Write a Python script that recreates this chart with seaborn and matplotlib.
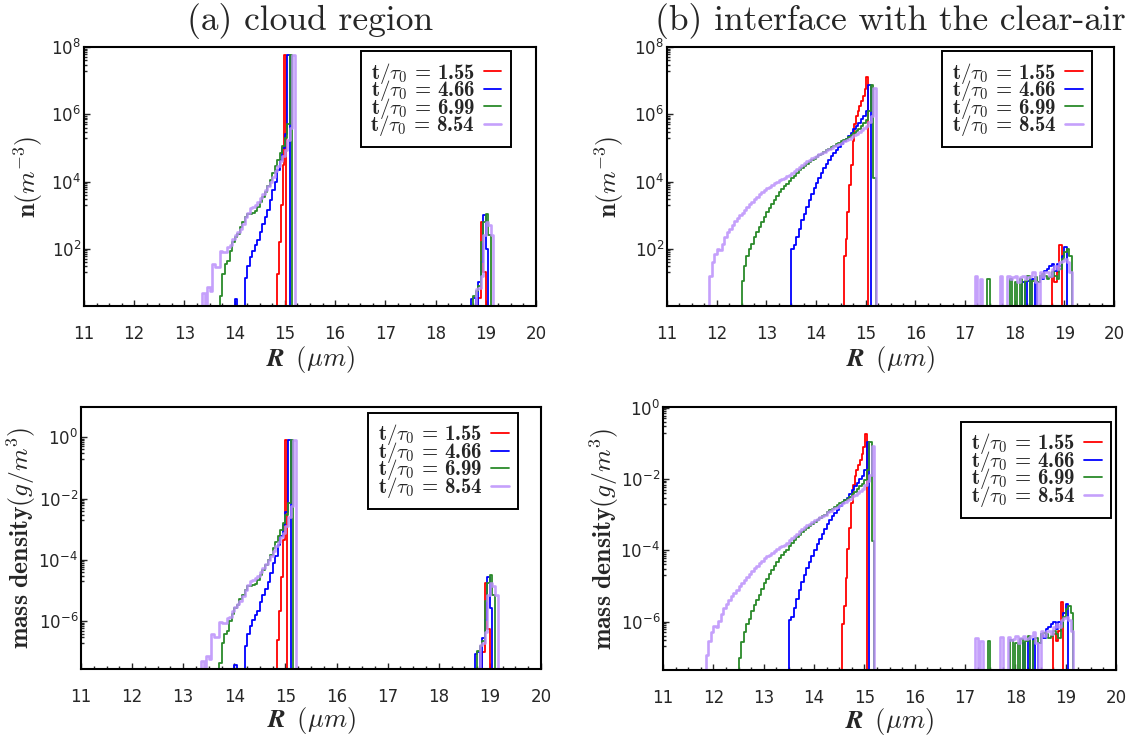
import numpy as np
import pandas as pd
import matplotlib
matplotlib.use("Agg")
import matplotlib.pyplot as plt
import seaborn as sns
from matplotlib.lines import Line2D
from matplotlib.ticker import FixedLocator, MultipleLocator, LogFormatterSciNotation, NullFormatter
from matplotlib.font_manager import FontProperties
from matplotlib.mathtext import MathTextParser

sns.set_style("ticks")
plt.rcParams.update({
    "font.family": ["DejaVu Sans"],
    "mathtext.fontset": "dejavusans",
    "axes.unicode_minus": False,
    "axes.linewidth": 1.5,
    "axes.edgecolor": "black",
    "axes.facecolor": "white",
    "figure.facecolor": "white",
})

# ---------------------------------------------------------------- data
times = ["1.55", "4.66", "6.99", "8.54"]
panel_titles = ["(a) cloud region", "(b) interface with the clear-air"]

# bins: start radius (um), bin width (um); values are log10 of the bin value
# (None = empty bin)

# (a) cloud region, number density n (m^-3)
a_n_main_start = [14.84, 14.00, 13.70, 13.35]
a_n_main_width = [0.038, 0.05, 0.05, 0.05]
a_n_r155 = [1.25, 2.2, 3.3, 4.5, 7.76]
a_n_r466 = [0.5, None, None, None, 1.14, 1.5, 1.75, 1.95, 2.1, 2.25, 2.5, 2.75,
            2.95, 3.15, 3.45, 3.75, 4.0, 4.35, 4.65, 5.0, 5.4, 7.76]
a_n_r699 = [0.6, 1.25, 1.55, 1.65, 1.95, 2.2, 2.35, 2.45, 2.65, 2.8, 2.95, 3.05,
            3.05, 3.08, 3.12, 3.25, 3.4, 3.55, 3.7, 3.88, 4.05, 4.25, 4.45, 4.65,
            4.85, 5.05, 5.3, 5.7, 7.76]
a_n_r854 = [0.7, None, 0.86, 0.75, 1.55, 1.45, 1.45, 1.95, 1.9, 1.9, 2.05, 2.1,
            2.3, 2.4, 2.5, 2.6, 2.75, 2.95, 3.08, 3.2, 3.25, 3.3, 3.38, 3.5, 3.62,
            3.75, 3.88, 4.0, 4.15, 4.3, 4.45, 4.6, 4.75, 4.95, 5.25, 5.6, 7.76]
a_n_big_start = [18.85, 18.70, 18.75, 18.80]
a_n_big_r155 = [0.55, 2.8, 1.3]
a_n_big_r466 = [0.5, 0.55, None, 1.0, 1.6, 3.0, 2.0]
a_n_big_r699 = [0.6, 0.75, 0.9, 2.2, 2.8, 3.05, 2.4]
a_n_big_r854 = [0.8, 0.85, 1.2, 2.4, 2.8, 2.7, 2.4]

# (a) cloud region, mass density (g/m^3)
a_m_r155 = [-6.61, -5.66, -4.56, -3.36, -0.08]
a_m_r466 = [-7.43, None, None, None, -6.79, -6.40, -6.15, -5.95, -5.80, -5.65,
            -5.38, -5.13, -4.93, -4.73, -4.43, -4.11, -3.86, -3.51, -3.21, -2.86,
            -2.44, -0.08]
a_m_r699 = [-7.37, -6.70, -6.40, -6.30, -6.00, -5.75, -5.58, -5.48, -5.28, -5.13,
            -4.98, -4.85, -4.85, -4.82, -4.78, -4.65, -4.48, -4.33, -4.18, -4.00,
            -3.83, -3.61, -3.41, -3.21, -3.01, -2.81, -2.54, -2.14, -0.08]
a_m_r854 = [-7.30, None, -7.14, -7.22, -6.42, -6.52, -6.52, -6.02, -6.05, -6.05,
            -5.90, -5.85, -5.65, -5.53, -5.43, -5.33, -5.18, -4.98, -4.82, -4.70,
            -4.65, -4.60, -4.52, -4.38, -4.26, -4.13, -4.00, -3.88, -3.71, -3.56,
            -3.41, -3.26, -3.11, -2.89, -2.59, -2.24, -0.08]
a_m_big_r155 = [-7.0, -4.75, -6.25]
a_m_big_r466 = [-7.06, -7.01, None, -6.55, -5.95, -4.55, -5.55]
a_m_big_r699 = [-6.96, -6.81, -6.65, -5.35, -4.75, -4.5, -5.15]
a_m_big_r854 = [-6.76, -6.71, -6.35, -5.15, -4.75, -4.85, -5.15]

# (b) interface with the clear-air, number density n (m^-3)
b_n_main_start = [14.56, 13.50, 12.50, 11.85]
b_n_main_width = [0.035, 0.05, 0.05, 0.05]
b_n_r155 = [1.8, 2.3, 3.1, 3.9, 4.5, 5.2, 5.7, 5.95, 6.1, 6.25, 6.4, 6.55, 6.75, 7.1]
b_n_r466 = [2.0, 2.1, 2.35, 2.6, 2.85, 3.05, 3.25, 3.45, 3.62, 3.8,
            3.95, 4.1, 4.25, 4.4, 4.52, 4.64, 4.75, 4.86, 4.95, 5.04,
            5.12, 5.2, 5.28, 5.36, 5.45, 5.55, 5.65, 5.75, 5.85, 5.95, 6.1, 6.87]
b_n_r699 = [1.05, 1.5, 1.8, 2.0, 2.15, 2.35, 2.5, 2.65, 2.8, 2.95,
            3.1, 3.22, 3.34, 3.46, 3.58, 3.68, 3.78, 3.86, 3.94, 4.02,
            4.1, 4.18, 4.26, 4.33, 4.4, 4.46, 4.52, 4.58, 4.63, 4.68,
            4.73, 4.78, 4.83, 4.88, 4.93, 4.98, 5.03, 5.07, 5.12, 5.16,
            5.2, 5.24, 5.28, 5.33, 5.38, 5.43, 5.5, 5.57, 5.65, 5.73,
            5.82, 6.1, 6.87, 4.1]
b_n_r854 = [1.2, 1.6, 1.85, 2.0, 1.98, 2.15, 2.35, 2.5, 2.6, 2.72,
            2.82, 2.92, 3.0, 3.08, 3.16, 3.24, 3.32, 3.4, 3.48, 3.55,
            3.62, 3.68, 3.74, 3.8, 3.85, 3.9, 3.95, 4.0, 4.04, 4.08,
            4.12, 4.16, 4.2, 4.26, 4.32, 4.38, 4.44, 4.5, 4.55, 4.6,
            4.65, 4.69, 4.73, 4.77, 4.81, 4.85, 4.89, 4.93, 4.97, 5.01,
            5.05, 5.09, 5.12, 5.16, 5.2, 5.24, 5.28, 5.32, 5.37, 5.42,
            5.47, 5.52, 5.58, 5.66, 5.78, 5.95, 6.77]
b_n_big_start = [18.75, 18.15, 17.45, 17.20]
b_n_big_r155 = [1.2, 1.0, 1.3, 2.1]
b_n_big_r466 = [1.0, None, 1.05, None, 1.1, None, 1.0, 1.2, 1.1, 1.35, 1.4, 1.5,
                1.55, 1.35, 1.55, 1.5, 1.8, 2.05]
b_n_big_r699 = [1.1, None, None, None, None, None, None, None, None, 1.1, None,
                1.0, None, 1.1, None, 1.05, 1.2, None, 1.05, 1.15, 1.0, 1.2, 1.25,
                1.2, 1.1, 1.15, 1.3, 1.2, 1.1, 1.4, 1.7, 1.9, 2.0, 1.8]
b_n_big_r854 = [1.2, None, 1.1, None, None, None, None, None, None, None, 1.2,
                None, None, 1.2, 1.1, 1.15, 1.2, 1.0, 1.15, 1.2, 1.1, 1.15, 1.2,
                1.3, 1.0, None, 1.3, 1.15, 1.3, 1.3, 1.2, 1.4, 1.5, 1.4, 1.6, 1.65,
                1.7, 1.6, 1.3]

# (b) interface with the clear-air, mass density (g/m^3)
b_m_r155 = [-6.07, -5.57, -4.77, -3.97, -3.37, -2.67, -2.17, -1.91, -1.76, -1.61,
            -1.46, -1.31, -1.10, -0.75]
b_m_r466 = [-5.97, -5.87, -5.62, -5.37, -5.12, -4.90, -4.70, -4.50, -4.33, -4.15,
            -3.98, -3.83, -3.68, -3.53, -3.41, -3.26, -3.15, -3.04, -2.95, -2.86,
            -2.76, -2.68, -2.60, -2.52, -2.43, -2.31, -2.21, -2.11, -2.01, -1.91,
            -1.74, -0.97]
b_m_r699 = [-7.03, -6.58, -6.28, -6.08, -5.93, -5.70, -5.55, -5.40, -5.25, -5.10,
            -4.92, -4.80, -4.68, -4.56, -4.44, -4.32, -4.22, -4.14, -4.06, -3.98,
            -3.87, -3.79, -3.71, -3.64, -3.57, -3.49, -3.43, -3.37, -3.32, -3.27,
            -3.20, -3.15, -3.10, -3.05, -3.00, -2.92, -2.87, -2.83, -2.78, -2.74,
            -2.68, -2.64, -2.60, -2.55, -2.50, -2.43, -2.36, -2.29, -2.21, -2.13,
            -2.02, -1.74, -0.97, -3.74]
b_m_r854 = [-6.95, -6.55, -6.30, -6.13, -6.15, -5.98, -5.78, -5.63, -5.51, -5.39,
            -5.29, -5.19, -5.11, -5.00, -4.92, -4.84, -4.76, -4.68, -4.57, -4.50,
            -4.43, -4.37, -4.31, -4.22, -4.17, -4.12, -4.07, -4.02, -3.96, -3.92,
            -3.88, -3.84, -3.80, -3.71, -3.65, -3.59, -3.53, -3.47, -3.40, -3.35,
            -3.30, -3.26, -3.22, -3.16, -3.12, -3.08, -3.04, -3.00, -2.93, -2.89,
            -2.85, -2.81, -2.78, -2.72, -2.68, -2.64, -2.60, -2.56, -2.49, -2.44,
            -2.39, -2.34, -2.28, -2.18, -2.06, -1.89, -1.07]
b_m_big_r155 = [-6.36, -6.56, -6.26, -5.46]
b_m_big_r466 = [-6.60, None, -6.55, None, -6.50, None, -6.60, -6.36, -6.46, -6.21,
                -6.16, -6.06, -6.01, -6.21, -6.01, -6.06, -5.76, -5.51]
b_m_big_r699 = [-6.56, None, None, None, None, None, None, None, None, -6.53, None,
                -6.60, None, -6.50, None, -6.55, -6.40, None, -6.55, -6.45, -6.60,
                -6.36, -6.31, -6.36, -6.46, -6.41, -6.26, -6.36, -6.46, -6.16,
                -5.86, -5.66, -5.56, -5.76]
b_m_big_r854 = [-6.46, None, -6.56, None, None, None, None, None, None, None, -6.43,
                None, None, -6.43, -6.53, -6.48, -6.40, -6.60, -6.45, -6.40, -6.50,
                -6.45, -6.40, -6.30, -6.60, None, -6.26, -6.41, -6.26, -6.26, -6.36,
                -6.16, -6.06, -6.16, -5.96, -5.91, -5.86, -5.96, -6.26]

big_width = 0.05

# ---------------------------------------------------------------- styles
colors = ["#ff0000", "#0000ff", "#2a8a2a", "#bb90fb"]
widths = [1.3, 1.3, 1.3, 1.9]
alphas = [1.0, 1.0, 1.0, 0.85]

W, H = 1137, 740
fig = plt.figure(figsize=(W / 100, H / 100), dpi=100)


def px_axes(l, r, t, b):
    return fig.add_axes([l / W, (H - b) / H, (r - l) / W, (b - t) / H])


panels = [
    dict(box=(84, 536, 47, 306), ylim=(2.0, 1e8),
         main=[a_n_r155, a_n_r466, a_n_r699, a_n_r854], mstart=a_n_main_start, mwidth=a_n_main_width,
         big=[a_n_big_r155, a_n_big_r466, a_n_big_r699, a_n_big_r854], bstart=a_n_big_start,
         kind="n", title=panel_titles[0], leg=(0.944, 0.984), ylx=-0.086, xly=-0.145),
    dict(box=(667, 1114, 47, 306), ylim=(2.0, 1e8),
         main=[b_n_r155, b_n_r466, b_n_r699, b_n_r854], mstart=b_n_main_start, mwidth=b_n_main_width,
         big=[b_n_big_r155, b_n_big_r466, b_n_big_r699, b_n_big_r854], bstart=b_n_big_start,
         kind="n", title=panel_titles[1], leg=(0.951, 0.984), ylx=-0.0915, xly=-0.145),
    dict(box=(81, 541, 407, 669), ylim=(10 ** -7.55, 10 ** 0.98),
         main=[a_m_r155, a_m_r466, a_m_r699, a_m_r854], mstart=a_n_main_start, mwidth=a_n_main_width,
         big=[a_m_big_r155, a_m_big_r466, a_m_big_r699, a_m_big_r854], bstart=a_n_big_start,
         kind="m", title=None, leg=(0.95, 0.977), ylx=-0.094, xly=-0.137),
    dict(box=(663, 1116, 407, 670), ylim=(10 ** -7.36, 10 ** 0.02),
         main=[b_m_r155, b_m_r466, b_m_r699, b_m_r854], mstart=b_n_main_start, mwidth=b_n_main_width,
         big=[b_m_big_r155, b_m_big_r466, b_m_big_r699, b_m_big_r854], bstart=b_n_big_start,
         kind="m", title=None, leg=(0.989, 0.943), ylx=-0.093, xly=-0.137),
]


def series(start, width, logs):
    vals = [0.0] + [0.0 if v is None else 10.0 ** v for v in logs] + [0.0]
    edges = start + width * np.arange(-1, len(logs) + 2)
    centers = edges[:-1] + width / 2.0
    return pd.DataFrame({"R": centers, "value": vals}), edges


def usable(s):
    try:
        MathTextParser("path").parse(s, 72, FontProperties(math_fontfamily="cm"))
        return True
    except Exception:
        return False


xlabel = r"$\boldsymbol{R}\ \,(\mu m)$"
if not usable(xlabel):
    xlabel = r"$\mathbf{R}\ \,(\mu m)$"

leg_prop = FontProperties(family="cmb10", size=15, math_fontfamily="cm")

for p in panels:
    ax = px_axes(*p["box"])
    for i in range(4):
        for start, width, logs in ((p["mstart"][i], p["mwidth"][i], p["main"][i]),
                                   (p["bstart"][i], big_width, p["big"][i])):
            df, e = series(start, width, logs)
            sns.histplot(data=df, x="R", weights="value", bins=list(e), element="step",
                         fill=False, color=colors[i], linewidth=widths[i],
                         alpha=alphas[i], ax=ax)
    lo, hi = p["ylim"]
    ax.set_yscale("log", nonpositive="clip")
    ax.set_xlim(11, 20)
    ax.set_ylim(lo, hi)
    ax.xaxis.set_major_locator(MultipleLocator(1))
    ax.xaxis.set_minor_locator(MultipleLocator(0.25))
    majors = [10.0 ** k for k in range(-12, 11, 2) if lo <= 10.0 ** k <= hi * 1.001]
    minors = [s * 10.0 ** k for k in range(-11, 10, 2) for s in range(2, 10)
              if lo <= s * 10.0 ** k <= hi]
    ax.yaxis.set_major_locator(FixedLocator(majors))
    ax.yaxis.set_major_formatter(LogFormatterSciNotation(base=10))
    ax.yaxis.set_minor_locator(FixedLocator(minors))
    ax.yaxis.set_minor_formatter(NullFormatter())
    ax.tick_params(axis="x", which="both", direction="in", top=False, bottom=True,
                   pad=14, labelsize=12, width=1)
    ax.tick_params(axis="x", which="major", length=4)
    ax.tick_params(axis="x", which="minor", length=2)
    ax.tick_params(axis="y", which="both", direction="in", left=True, right=False,
                   pad=2, labelsize=12, width=1)
    ax.tick_params(axis="y", which="major", length=4.5)
    ax.tick_params(axis="y", which="minor", length=2.5)
    for s in ax.spines.values():
        s.set_linewidth(1.5)
        s.set_color("black")

    if p["kind"] == "n":
        ylab = r"$\mathbf{n}(m^{-3})$"
    else:
        ylab = r"$\mathbf{mass\ density}(g/m^3)$"
    ax.set_ylabel(ylab, fontsize=18.5, math_fontfamily="cm")
    ax.yaxis.set_label_coords(p["ylx"], 0.5)
    ax.set_xlabel(xlabel, fontsize=19, math_fontfamily="cm")
    ax.xaxis.set_label_coords(0.5, p["xly"])
    if p["title"]:
        ax.set_title(p["title"], fontsize=25.5, fontfamily="cmr10", pad=12)

    handles = [Line2D([], [], color=colors[i], lw=widths[i], alpha=alphas[i]) for i in range(4)]
    labels = [r"$\mathbf{t/\tau_0}$ = %s" % t for t in times]
    leg = ax.legend(handles, labels, loc="upper right", bbox_to_anchor=p["leg"],
                    borderaxespad=0, markerfirst=False, frameon=True, fancybox=False,
                    edgecolor="black", framealpha=1, prop=leg_prop, handlelength=0.85,
                    handletextpad=0.4, labelspacing=-0.36, borderpad=0.45)
    leg.get_frame().set_linewidth(1.4)

fig.savefig("out.png", dpi=100)
